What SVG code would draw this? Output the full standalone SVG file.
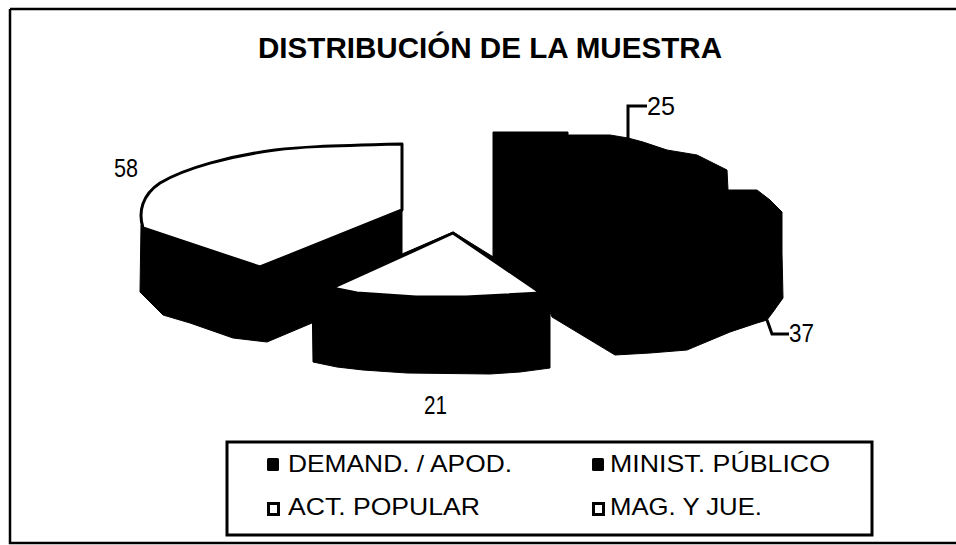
<svg xmlns="http://www.w3.org/2000/svg" width="956" height="545" viewBox="0 0 956 545">
<style>
.lbl{font-family:"Liberation Sans",Arial,sans-serif;font-size:24px;fill:#000}
.num{font-family:"Liberation Sans",Arial,sans-serif;font-size:26px;fill:#000}
.ttl{font-family:"Liberation Sans",Arial,sans-serif;font-size:30px;font-weight:bold;fill:#000}
.blk{fill:#000;stroke:#000;stroke-width:1;stroke-linejoin:round}
.top{fill:#fff;stroke:#000;stroke-width:3;stroke-linejoin:round}
.lead{fill:none;stroke:#000;stroke-width:3}
.frame{fill:none;stroke:#000;stroke-width:2.5}
</style>
<rect width="956" height="545" fill="#fff"/>
<g id="frame">
<path class="frame" d="M10,9 H956 M10,9 V543 H956"/>
</g>
<g id="title">
<text class="ttl" x="490" y="58" text-anchor="middle" textLength="464" lengthAdjust="spacingAndGlyphs">DISTRIBUCIÓN DE LA MUESTRA</text>
</g>
<g id="slice-left">
<path class="blk" d="M141,225 L140,292 L163,315 L190,323 L233,338 L267,342 L312,323 L402,254 L402,210 L260,267 Z"/>
<path class="top" d="M143,228 C138,212 142,195 160,183 C185,168 230,156 275,150 C300,147 320,146 402,144 L402,210 L260,267 Z"/>
</g>
<g id="slice-small">
<path class="blk" d="M312,290 L313,362 L337,367 L363,370 L407,373 L490,374 L520,372 L550,368 L550,292 L453,232 L402,254 L330,288 Z"/>
<path class="top" d="M332,288 L453,233 L541,293 L466,297 L416,297 L357,293 Z"/>
</g>
<g id="slice-right">
<path class="blk" d="M493,132 L568,132 L568,135 L610,135 L628,138 L643,142 L667,150 L697,155 L727,170 L728,190 L757,190 L770,200 L782,212 L782,253 L783,298 L773,312 L767,320 L757,323 L730,332 L687,350 L650,353 L615,355 L552,317 L542,293 L493,259 Z"/>
</g>
<g id="connectors">
<polyline class="lead" points="628,139 628,106 647,106"/>
<polyline class="lead" points="767,320 772,334 789,334"/>
</g>
<g id="data-labels">
<text class="num" x="647" y="115" textLength="28" lengthAdjust="spacingAndGlyphs">25</text>
<text class="num" x="789" y="342" textLength="25" lengthAdjust="spacingAndGlyphs">37</text>
<text class="num" x="114" y="177" textLength="24" lengthAdjust="spacingAndGlyphs">58</text>
<text class="num" x="424" y="414" textLength="23" lengthAdjust="spacingAndGlyphs">21</text>
</g>
<g id="legend">
<rect x="227" y="442" width="645" height="93" fill="#fff" stroke="#000" stroke-width="3"/>
<rect x="267" y="458" width="12" height="13" rx="1.5" fill="#000"/>
<text class="lbl" x="288" y="472" textLength="224" lengthAdjust="spacingAndGlyphs">DEMAND. / APOD.</text>
<rect x="592" y="458" width="12" height="13" rx="1.5" fill="#000"/>
<text class="lbl" x="610" y="472" textLength="220" lengthAdjust="spacingAndGlyphs">MINIST. PÚBLICO</text>
<rect x="268.5" y="503.5" width="10" height="11" fill="#fff" stroke="#000" stroke-width="3"/>
<text class="lbl" x="288" y="515" textLength="192" lengthAdjust="spacingAndGlyphs">ACT. POPULAR</text>
<rect x="593.5" y="503.5" width="10" height="11" fill="#fff" stroke="#000" stroke-width="3"/>
<text class="lbl" x="610" y="515" textLength="152" lengthAdjust="spacingAndGlyphs">MAG. Y JUE.</text>
</g>
</svg>
